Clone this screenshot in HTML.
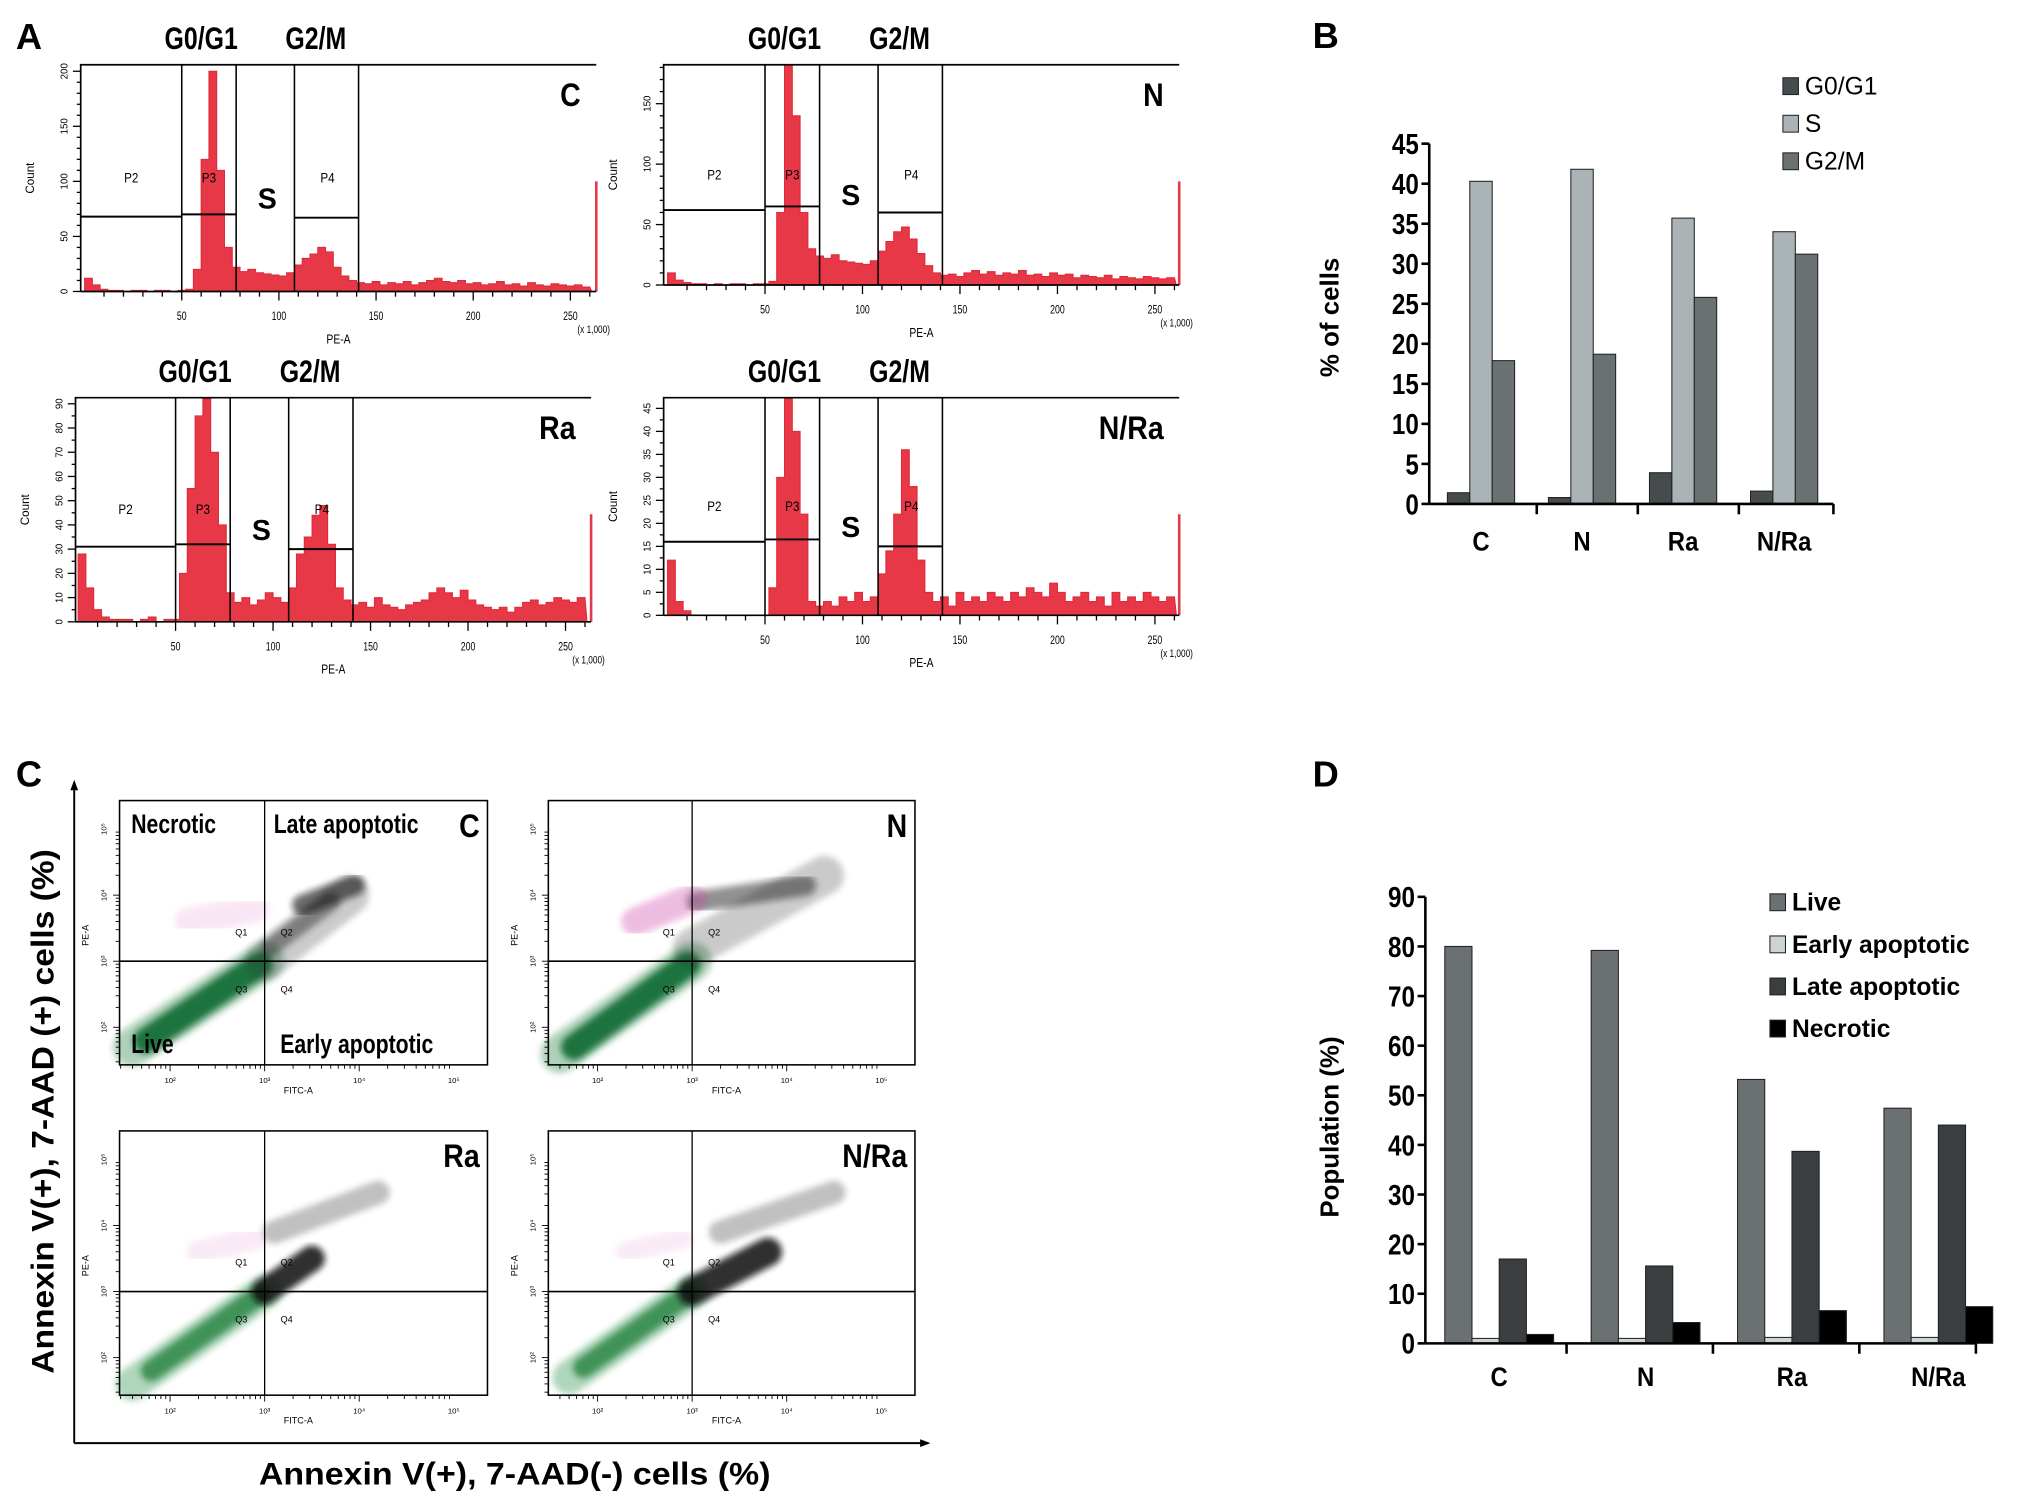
<!DOCTYPE html>
<html><head><meta charset="utf-8"><style>
html,body{margin:0;padding:0;background:#fff}
svg{display:block}
text{font-family:"Liberation Sans",sans-serif}
</style></head><body>
<svg id="fig" width="2032" height="1504" viewBox="0 0 1568 1161" xmlns="http://www.w3.org/2000/svg">
<defs>
<filter id="blur3" x="-50%" y="-50%" width="200%" height="200%"><feGaussianBlur stdDeviation="2.5"/></filter>
</defs>
<rect width="1568" height="1161" fill="#fff"/>
<g id="root"></g>
</svg>
<script>
// ---------- DATA ----------
const histBins = [0,4,8,12,16,20,24,28,32,36,40,44,48,52,56,60,64,68,72,76,80,84,88,92,96,100,104,108,112,116,120,124,128,132,136,140,144,148,152,156,160,164,168,172,176,180,184,188,192,196,200,204,208,212,216,220,224,228,232,236,240,244,248,252,256];
const histC  = [12,6,2,1,1,0,1,1,0,1,1,0,1,2,20,120,200,110,40,22,18,20,17,16,15,14,17,24,30,34,40,36,22,14,10,8,7,9,6,8,7,9,6,8,10,12,9,8,10,7,8,6,7,9,6,7,5,8,6,5,7,6,5,6,4];
const histN  = [10,4,2,1,1,0,1,0,1,1,0,1,1,3,60,182,140,60,30,24,22,25,20,19,18,17,20,28,36,44,48,38,26,16,10,8,9,7,10,12,9,11,8,10,9,12,8,9,7,10,8,9,6,8,7,6,8,5,7,6,5,7,6,5,6];
const histRa = [28,14,5,2,1,1,1,0,1,2,0,1,1,20,55,85,92,70,40,12,8,10,7,9,12,10,8,14,28,35,44,48,32,14,9,7,8,6,10,7,6,5,7,8,9,12,14,12,10,13,9,7,6,5,6,4,6,8,9,7,8,10,9,8,10];
const histNRa= [12,3,1,0,0,0,0,0,0,0,0,0,0,6,30,48,40,22,3,2,3,2,4,3,5,3,4,9,14,22,36,28,12,5,3,4,2,5,3,4,3,5,4,3,5,4,6,5,4,7,5,3,4,5,3,4,2,5,3,4,3,5,4,3,4];
const histXTicks = [50,100,150,200,250];
const gateEdges = [50,78,108,141];

const bCategories = ["C","N","Ra","N/Ra"];
const bSeriesNames = ["G0/G1","S","G2/M"];
const bG0G1 = [1.4,0.8,3.9,1.6];
const bS    = [40.3,41.8,35.7,34.0];
const bG2M  = [17.9,18.7,25.8,31.2];
const bTicks = [0,5,10,15,20,25,30,35,40,45];

const dCategories = ["C","N","Ra","N/Ra"];
const dSeriesNames = ["Live","Early apoptotic","Late apoptotic","Necrotic"];
const dLive  = [80,79.2,53.2,47.4];
const dEarly = [1,1,1.2,1.2];
const dLate  = [17,15.6,38.7,44];
const dNecro = [1.8,4.2,6.6,7.4];
const dTicks = [0,10,20,30,40,50,60,70,80,90];

// ---------- helpers ----------
const NS="http://www.w3.org/2000/svg";
const root=document.getElementById('root');
function el(tag,attrs,parent,txt){const e=document.createElementNS(NS,tag);for(const k in attrs)e.setAttribute(k,attrs[k]);if(txt!==undefined)e.textContent=txt;(parent||root).appendChild(e);return e;}
function label(x,y,s,size,opts,parent){opts=opts||{};const t=el('text',Object.assign({x:x,y:y,'font-size':size,'text-anchor':opts.anchor||'start','font-weight':opts.bold?'bold':'normal',fill:opts.fill||'#000'},opts.extra||{}),parent,s);return t;}
function narrow(x,y,s,size,bold,anchor,parent,sx){const g=el('g',{transform:`translate(${x},${y}) scale(${sx||0.82},1)`},parent);label(0,0,s,size,{bold:bold,anchor:anchor||'start'},g);return g;}

[["A",12,38],["B",1013,37],["C",12,607],["D",1013,607]].forEach(p=>{
  const t=label(p[1],p[2],p[0],28,{bold:true});
  
  
});

// ---------- histograms ----------
function histogram(cfg){
  const g=el('g',{});
  
  
  const X=v=>cfg.x0+v*cfg.kx, Y=v=>cfg.yb-v*cfg.ky;
  let d='M'+X(histBins[0])+','+cfg.yb;
  cfg.data.forEach((v,i)=>{const y=Math.max(Y(v),cfg.top);d+=' L'+X(histBins[i])+','+y+' L'+X(histBins[i]+4)+','+y;});
  d+=' L'+X(261)+','+cfg.yb+' Z';
  const a=el('path',{d:d,fill:'#e63846',stroke:'#e02838','stroke-width':0.8},g);
  
  
  el('line',{x1:cfg.right,y1:cfg.yb,x2:cfg.right,y2:cfg.top+90,stroke:'#e63846','stroke-width':2},g);
  el('path',{d:`M${cfg.left},${cfg.yb} L${cfg.left},${cfg.top} L${cfg.right},${cfg.top}`,fill:'none',stroke:'#000','stroke-width':1.3},g);
  el('line',{x1:cfg.left,y1:cfg.yb,x2:cfg.right,y2:cfg.yb,stroke:'#000','stroke-width':1.3},g);
  gateEdges.forEach(v=>el('line',{x1:X(v),y1:cfg.top,x2:X(v),y2:cfg.yb,stroke:'#000','stroke-width':1.2},g));
  el('line',{x1:cfg.left,y1:Y(cfg.g[0]),x2:X(50),y2:Y(cfg.g[0]),stroke:'#000','stroke-width':1.5},g);
  el('line',{x1:X(50),y1:Y(cfg.g[1]),x2:X(78),y2:Y(cfg.g[1]),stroke:'#000','stroke-width':1.5},g);
  el('line',{x1:X(108),y1:Y(cfg.g[2]),x2:X(141),y2:Y(cfg.g[2]),stroke:'#000','stroke-width':1.5},g);
  const gy=cfg.top+(cfg.yb-cfg.top)*0.52;
  narrow((cfg.left+X(50))/2,gy,'P2',11,false,'middle',g);
  narrow(X(64),gy,'P3',11,false,'middle',g);
  narrow(X(125),gy,'P4',11,false,'middle',g);
  label(X(94),gy+20,'S',22,{anchor:'middle',bold:true},g);
  narrow(cfg.right-12,cfg.top+32,cfg.name,25,true,'end',g,0.88);
  narrow(X(60),cfg.top-12,'G0/G1',24,true,'middle',g,0.8);
  narrow(X(119),cfg.top-12,'G2/M',24,true,'middle',g,0.8);
  for(let v=10;v<=260;v+=10){el('line',{x1:X(v),y1:cfg.yb,x2:X(v),y2:cfg.yb+(v%50?4:7),stroke:'#000','stroke-width':1},g);}
  histXTicks.forEach(v=>narrow(X(v),cfg.yb+22,String(v),9,false,'middle',g,0.75));
  narrow(cfg.right-2,cfg.yb+32,'(x 1,000)',8.5,false,'middle',g,0.75);
  narrow((cfg.left+cfg.right)/2,cfg.yb+40,'PE-A',10,false,'middle',g,0.8);
  el('text',{x:0,y:0,'font-size':9,'text-anchor':'middle',transform:`translate(${cfg.left-36},${(cfg.top+cfg.yb)/2}) rotate(-90)`},g,'Count');
  for(let v=0;v<=cfg.ymax;v+=cfg.minor){const y=Y(v);if(y<cfg.top-1)break;el('line',{x1:cfg.left-(v%cfg.major?3:6),y1:y,x2:cfg.left,y2:y,stroke:'#000','stroke-width':1},g);
    if(v%cfg.major===0){el('text',{x:0,y:0,'font-size':7.5,'text-anchor':'middle',transform:`translate(${cfg.left-10},${y}) rotate(-90)`},g,String(v));}}
}
histogram({id:'c',name:'C',data:histC,left:62,right:460,top:50,yb:225,x0:65,kx:1.5,ky:0.85,ymax:200,major:50,minor:10,g:[68,70,67]});
histogram({id:'n',name:'N',data:histN,left:512,right:910,top:50,yb:220,x0:515,kx:1.505,ky:0.933,ymax:180,major:50,minor:10,g:[62,65,60]});
histogram({id:'ra',name:'Ra',data:histRa,left:58,right:456,top:307,yb:480,x0:60,kx:1.505,ky:1.87,ymax:90,major:10,minor:5,g:[31,32,30]});
histogram({id:'nra',name:'N/Ra',data:histNRa,left:512,right:910,top:307,yb:475,x0:515,kx:1.505,ky:3.55,ymax:45,major:5,minor:2.5,g:[16,16.5,15]});

// ---------- bar charts ----------
function barChart(cfg){
  const g=el('g',{});
  
  
  const Y=v=>cfg.y0-v*cfg.ky;
  cfg.series.forEach((ser,si)=>{
    ser.forEach((v,ci)=>{
      const x=cfg.gx0+ci*cfg.pitch+si*cfg.bw;
      const r=el('rect',{x:x,y:Y(v),width:cfg.bw,height:v*cfg.ky,fill:cfg.colors[si],stroke:'#222','stroke-width':0.8},g);
      
      
    });
  });
  el('line',{x1:cfg.ax,y1:cfg.y0,x2:cfg.ax,y2:Y(cfg.ticks[cfg.ticks.length-1]),stroke:'#000','stroke-width':2},g);
  el('line',{x1:cfg.ax,y1:cfg.y0,x2:cfg.axEnd,y2:cfg.y0,stroke:'#000','stroke-width':2},g);
  cfg.ticks.forEach(t=>{el('line',{x1:cfg.ax-6,y1:Y(t),x2:cfg.ax,y2:Y(t),stroke:'#000','stroke-width':2},g);
    narrow(cfg.ax-8,Y(t)+8,String(t),22,true,'end',g,0.85);});
  cfg.cats.forEach((c,ci)=>{
    const cx=cfg.gx0+ci*cfg.pitch+cfg.series.length*cfg.bw/2;
    if(ci>0)el('line',{x1:cfg.gx0+ci*cfg.pitch-cfg.gap,y1:cfg.y0,x2:cfg.gx0+ci*cfg.pitch-cfg.gap,y2:cfg.y0+8,stroke:'#000','stroke-width':2},g);
    narrow(cx,cfg.catY,c,21,true,'middle',g,0.88);
  });
  el('line',{x1:cfg.axEnd,y1:cfg.y0,x2:cfg.axEnd,y2:cfg.y0+8,stroke:'#000','stroke-width':2},g);
  el('text',{x:0,y:0,'font-size':20,'font-weight':'bold','text-anchor':'middle',transform:`translate(${cfg.titleX},${cfg.titleY}) rotate(-90)`},g,cfg.title);
  cfg.names.forEach((n,i)=>{
    const y=cfg.legY+i*cfg.legStep;
    el('rect',{x:cfg.legX,y:y-13,width:12,height:13,fill:cfg.colors[i],stroke:'#222','stroke-width':0.8},g);
    const t=label(cfg.legX+17,y,n,cfg.legSize,{bold:cfg.legBold},g);
    
    
  });
}
barChart({id:'cell-cycle-bar-chart',series:[bG0G1,bS,bG2M],cats:bCategories,names:bSeriesNames,colors:['#464c4e','#aab4b7','#6a7173'],
  y0:389,ky:6.18,gx0:1117,pitch:78,bw:17.3,gap:9,ax:1103,axEnd:1415,ticks:bTicks,catY:425,title:'% of cells',titleX:1033,titleY:245,
  legX:1376,legY:73,legStep:29,legSize:19,legBold:false});
barChart({id:'apoptosis-bar-chart',series:[dLive,dEarly,dLate,dNecro],cats:dCategories,names:dSeriesNames,colors:['#6b7072','#cdd4d6','#3a3e40','#000'],
  y0:1037,ky:3.83,gx0:1115,pitch:113,bw:21,gap:19,ax:1100,axEnd:1525,ticks:dTicks,catY:1070,title:'Population (%)',titleX:1033,titleY:870,
  legX:1366,legY:703,legStep:32.5,legSize:19,legBold:true});

// ---------- scatter plots ----------
const scatterPanels=[
 {id:'c',name:'C',left:92,right:376,top:618,bot:822,qx:204,qy:742,labels:true,
  clusters:[[1.6,1.7,3.0,3.0,30,'#1b7a3b',0.35],[1.75,1.8,2.95,2.95,20,'#0f6a30',0.9],[3.0,3.0,3.9,4.0,30,'#333',0.25],[3.05,3.2,3.7,3.9,14,'#222',0.45],[3.4,3.85,3.95,4.15,16,'#111',0.6],[2.2,3.6,2.9,3.8,22,'#e07ac8',0.18]]},
 {id:'n',name:'N',left:423,right:706,top:618,bot:822,qx:534,qy:742,labels:false,
  clusters:[[1.6,1.6,3.0,3.0,30,'#1b7a3b',0.35],[1.75,1.7,2.95,2.95,20,'#0f6a30',0.9],[3.0,3.2,4.4,4.3,30,'#333',0.25],[3.05,3.9,4.2,4.15,16,'#111',0.45],[2.4,3.6,3.0,3.95,22,'#cc44aa',0.35]]},
 {id:'ra',name:'Ra',left:92,right:376,top:873,bot:1077,qx:204,qy:997,labels:false,
  clusters:[[1.6,1.6,3.0,3.0,26,'#1f8a3f',0.35],[1.8,1.8,2.95,2.95,16,'#1a7d38',0.75],[3.0,3.0,3.5,3.5,20,'#111',0.85],[3.1,3.9,4.2,4.5,18,'#333',0.3],[2.3,3.6,2.9,3.8,18,'#e07ac8',0.15]]},
 {id:'nra',name:'N/Ra',left:423,right:706,top:873,bot:1077,qx:534,qy:997,labels:false,
  clusters:[[1.7,1.7,3.0,3.0,26,'#1f8a3f',0.35],[1.85,1.85,2.95,2.95,16,'#1a7d38',0.75],[3.0,3.0,3.8,3.6,22,'#111',0.85],[3.3,3.9,4.5,4.5,18,'#333',0.3],[2.3,3.6,2.9,3.8,16,'#e07ac8',0.15]]}
];
scatterPanels.forEach(p=>{
  const g=el('g',{});
  
  
  const X=l=>p.qx+(l-3)*73, Y=l=>p.qy-(l-3)*51;
  p.clusters.forEach(c=>{
    el('line',{x1:X(c[0]),y1:Y(c[1]),x2:X(c[2]),y2:Y(c[3]),stroke:c[5],'stroke-width':c[4],'stroke-linecap':'round',opacity:c[6],filter:'url(#blur3)'},g);
  });
  el('rect',{x:p.left,y:p.top,width:p.right-p.left,height:p.bot-p.top,fill:'none',stroke:'#000','stroke-width':1.2},g);
  el('line',{x1:p.qx,y1:p.top,x2:p.qx,y2:p.bot,stroke:'#000','stroke-width':1},g);
  el('line',{x1:p.left,y1:p.qy,x2:p.right,y2:p.qy,stroke:'#000','stroke-width':1.3},g);
  label(p.qx-18,p.qy-20,'Q1',7,{anchor:'middle'},g);
  label(p.qx+17,p.qy-20,'Q2',7,{anchor:'middle'},g);
  label(p.qx-18,p.qy+24,'Q3',7,{anchor:'middle'},g);
  label(p.qx+17,p.qy+24,'Q4',7,{anchor:'middle'},g);
  narrow(p.right-6,p.top+28,p.name,25,true,'end',g,0.88);
  for(let d=2;d<=5;d++){label(X(d),p.bot+14,'10'+String.fromCharCode([0,0,178,179,8308,8309][d]),6,{anchor:'middle'},g);
    for(let m=1;m<10;m++){const xx=X(d-1+Math.log10(m));if(xx>p.left&&xx<p.right)el('line',{x1:xx,y1:p.bot,x2:xx,y2:p.bot+(m==1?5:3),stroke:'#000','stroke-width':0.7},g);}}
  for(let d=2;d<=5;d++){el('text',{x:0,y:0,'font-size':6,'text-anchor':'middle',transform:`translate(${p.left-10},${Y(d)}) rotate(-90)`},g,'10'+String.fromCharCode([0,0,178,179,8308,8309][d]));
    for(let m=1;m<10;m++){const yy=Y(d-1+Math.log10(m));if(yy>p.top&&yy<p.bot)el('line',{x1:p.left-(m==1?5:3),y1:yy,x2:p.left,y2:yy,stroke:'#000','stroke-width':0.7},g);}}
  label((p.left+p.right)/2-4,p.bot+22,'FITC-A',7,{anchor:'middle'},g);
  el('text',{x:0,y:0,'font-size':7,'text-anchor':'middle',transform:`translate(${p.left-24},${p.qy-20}) rotate(-90)`},g,'PE-A');
  if(p.labels){
    narrow(101,643,'Necrotic',21,true,'start',g,0.78);
    narrow(211,643,'Late apoptotic',21,true,'start',g,0.78);
    narrow(101,813,'Live',21,true,'start',g,0.78);
    narrow(216,813,'Early apoptotic',21,true,'start',g,0.78);
  }
});
const ax=el('g',{});


el('line',{x1:57,y1:604,x2:57,y2:1114,stroke:'#000','stroke-width':1.5},ax);
el('line',{x1:57,y1:1114,x2:716,y2:1114,stroke:'#000','stroke-width':1.5},ax);
el('path',{d:'M54,610 L57,602 L60,610 Z',fill:'#000'},ax);
el('path',{d:'M710,1111 L718,1114 L710,1117 Z',fill:'#000'},ax);
el('text',{x:0,y:0,'font-size':24,'font-weight':'bold','text-anchor':'middle','textLength':405,'lengthAdjust':'spacingAndGlyphs',transform:'translate(41,858) rotate(-90)'},ax,'Annexin V(+),  7-AAD (+) cells (%)');
const xt=label(397,1146,'Annexin V(+),  7-AAD(-) cells (%)',24,{anchor:'middle',bold:true},ax);
xt.setAttribute('textLength','395');
xt.setAttribute('lengthAdjust','spacingAndGlyphs');
</script>
</body></html>
